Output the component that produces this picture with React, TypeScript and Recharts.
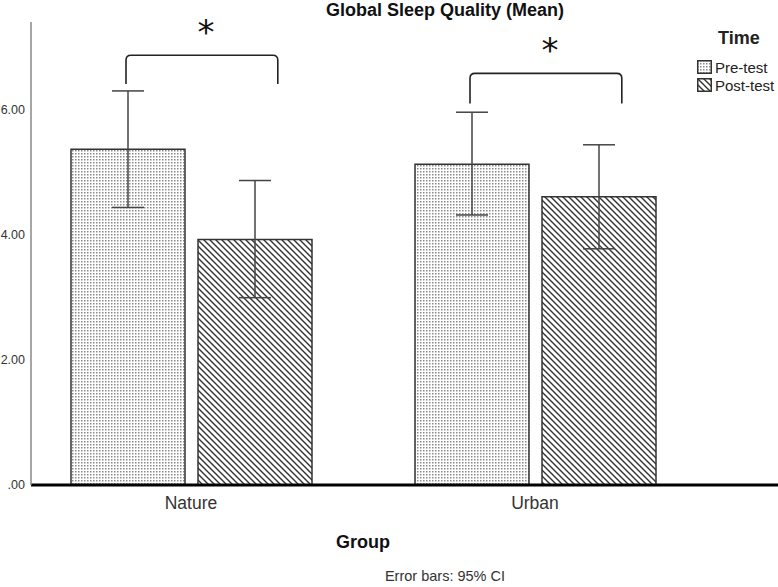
import { Bar, BarChart, ErrorBar, LabelList, XAxis, YAxis } from "recharts";

const GROUPS = ["Nature", "Urban"];
const PRE_MEAN = [5.36, 5.12];
const PRE_CI_LOW = [4.43, 4.31];
const PRE_CI_HIGH = [6.29, 5.95];
const POST_MEAN = [3.92, 4.6];
const POST_CI_LOW = [2.99, 3.77];
const POST_CI_HIGH = [4.86, 5.43];
const Y_TICKS = [0, 2, 4, 6];
// significance brackets (value units): top line and foot of each bracket
const BRACKET_TOP = [6.86, 6.57];
const BRACKET_FOOT = [6.4, 6.09];

const FONT = "'Liberation Sans', Arial, sans-serif";
const BAR_W = 114;
const BAR_GAP = 13;

const data = GROUPS.map((group, i) => ({
  group,
  pre: PRE_MEAN[i],
  preErr: [PRE_MEAN[i] - PRE_CI_LOW[i], PRE_CI_HIGH[i] - PRE_MEAN[i]],
  post: POST_MEAN[i],
  postErr: [POST_MEAN[i] - POST_CI_LOW[i], POST_CI_HIGH[i] - POST_MEAN[i]],
}));

// bracket drawn from the pre-test bar geometry, so it follows the bar scale
function Bracket(props: any) {
  const vb = props.viewBox ?? props;
  const { x, y, width, height } = vb;
  const i = props.index ?? 0;
  const base = y + height;
  const k = height / PRE_MEAN[i];
  const top = base - BRACKET_TOP[i] * k;
  const foot = base - BRACKET_FOOT[i] * k;
  const x1 = x + width / 2 - 2;
  const x2 = x + width + BAR_GAP + width * 0.7;
  const r = 5;
  const d = `M${x1},${foot} L${x1},${top + r} Q${x1},${top} ${x1 + r},${top} L${x2 - r},${top} Q${x2},${top} ${x2},${top + r} L${x2},${foot}`;
  return (
    <g>
      <path d={d} fill="none" stroke="#222" strokeWidth={1.6} />
      <text
        x={(x1 + x2) / 2 + 4}
        y={top - 11}
        textAnchor="middle"
        fontSize={34}
        fontFamily="'DejaVu Sans', sans-serif"
        fill="#111"
      >
        *
      </text>
    </g>
  );
}

function TimeLegend() {
  const rows = [
    { name: "Pre-test", fill: "url(#dots)" },
    { name: "Post-test", fill: "url(#hatch)" },
  ];
  return (
    <div style={{ position: "absolute", top: 28, left: 697, width: 80, fontFamily: FONT, color: "#222" }}>
      <div style={{ fontWeight: "bold", fontSize: 18, marginLeft: 21, marginBottom: 9 }}>Time</div>
      {rows.map((r) => (
        <div key={r.name} style={{ display: "flex", alignItems: "center", height: 18, fontSize: 15 }}>
          <svg width={15} height={14} style={{ marginRight: 3 }}>
            <rect x={0.75} y={0.75} width={13.5} height={12.5} fill={r.fill} stroke="#333" strokeWidth={1.5} />
          </svg>
          {r.name}
        </div>
      ))}
    </div>
  );
}

export default function App() {
  return (
    <div style={{ position: "absolute", left: 0, top: 0, width: 778, height: 587, background: "#fff" }}>
      <BarChart
        width={778}
        height={587}
        data={data}
        margin={{ top: 22, right: 0, bottom: 0, left: 0 }}
        barSize={BAR_W}
        barGap={BAR_GAP}
      >
        <defs>
          <pattern id="dots" patternUnits="userSpaceOnUse" width={3} height={3}>
            <rect width={3} height={3} fill="#fff" />
            <rect x={0} y={0} width={1.5} height={1.5} fill="#8a8a8a" />
          </pattern>
          <pattern id="hatch" patternUnits="userSpaceOnUse" width={6} height={6}>
            <rect width={6} height={6} fill="#fff" />
            <path d="M-1,-1 L7,7 M-1,5 L1,7 M5,-1 L7,1" stroke="#333" strokeWidth={1.4} />
          </pattern>
        </defs>
        <XAxis
          dataKey="group"
          padding={{ left: -12, right: 71 }}
          axisLine={{ stroke: "#000", strokeWidth: 3 }}
          tickLine={false}
          tickMargin={6}
          height={102}
          tick={{ fontSize: 17.5, fill: "#333", fontFamily: FONT }}
        />
        <YAxis
          domain={[0, 7.39]}
          ticks={Y_TICKS}
          width={31}
          axisLine={{ stroke: "#888", strokeWidth: 1.5 }}
          tickLine={false}
          tickSize={4}
          tickMargin={2}
          tick={{ fontSize: 12.5, fill: "#333", fontFamily: FONT }}
          tickFormatter={(v: number) => (v === 0 ? ".00" : v.toFixed(2))}
        />
        <Bar dataKey="pre" name="Pre-test" fill="url(#dots)" stroke="#333" strokeWidth={1.5} isAnimationActive={false}>
          <ErrorBar dataKey="preErr" width={16} stroke="#444" strokeWidth={1.5} direction="y" />
          <LabelList dataKey="pre" content={<Bracket />} />
        </Bar>
        <Bar dataKey="post" name="Post-test" fill="url(#hatch)" stroke="#333" strokeWidth={1.5} isAnimationActive={false}>
          <ErrorBar dataKey="postErr" width={16} stroke="#444" strokeWidth={1.5} direction="y" />
        </Bar>
      </BarChart>
      <TimeLegend />
      <div style={{ position: "absolute", top: 0, left: 0, width: 890, textAlign: "center", fontFamily: FONT, fontWeight: "bold", fontSize: 18, color: "#111" }}>
        Global Sleep Quality (Mean)
      </div>
      <div style={{ position: "absolute", top: 532, left: 0, width: 726, textAlign: "center", fontFamily: FONT, fontWeight: "bold", fontSize: 18, color: "#111" }}>
        Group
      </div>
      <div style={{ position: "absolute", top: 568, left: 0, width: 890, textAlign: "center", fontFamily: FONT, fontSize: 14.5, color: "#333" }}>
        Error bars: 95% CI
      </div>
    </div>
  );
}
